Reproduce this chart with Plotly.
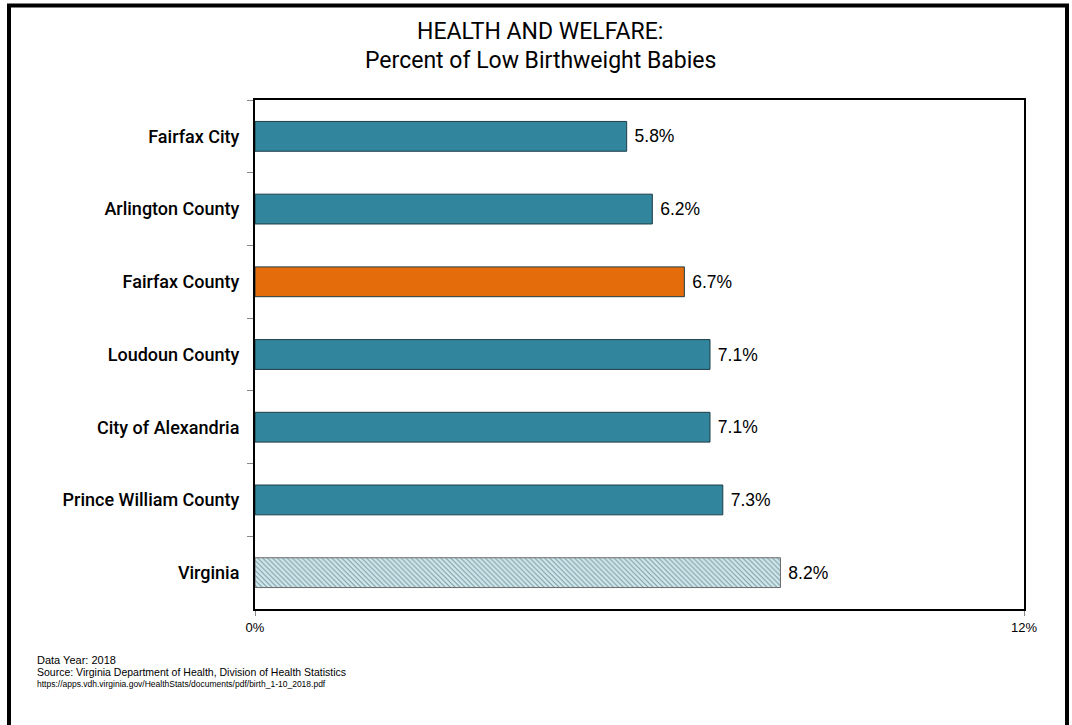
import plotly.graph_objects as go

# Datos
categorias = ['Fairfax City', 'Arlington County', 'Fairfax County', 'Loudoun County',
              'City of Alexandria', 'Prince William County', 'Virginia']
valores = [5.8, 6.2, 6.7, 7.1, 7.1, 7.3, 8.2]
etiquetas = [f' {v:.1f}%' for v in valores]
x_ticks = [0, 12]
x_tick_labels = ['0%', '12%']

teal = '#31859C'
naranja = '#E46C0A'
colores = [teal, teal, naranja, teal, teal, teal, '#cbe9f0']
bordes = ['#1d3d47'] * 6 + ['#6a6a6a']
patrones = [''] * 6 + ['\\']

# Área del gráfico en píxeles (izq, der, arriba, abajo)
L, R, T, B = 255, 1024, 100, 609


def px_x(x):
    return (x - L) / (R - L)


def px_y(y):
    return (B - y) / (B - T)


fig = go.Figure()
fig.add_trace(go.Bar(
    x=valores,
    y=categorias,
    orientation='h',
    width=0.41,
    marker=dict(
        color=colores,
        line=dict(color=bordes, width=1),
        pattern=dict(shape=patrones, fgcolor='#3f93aa', bgcolor='#cfeaf1', size=3.5, solidity=0.3),
    ),
    text=etiquetas,
    textposition='outside',
    textfont=dict(family='Liberation Sans, Arial', size=17.5, color='black'),
    cliponaxis=False,
    hoverinfo='skip',
))

fig.update_layout(
    width=1072,
    height=725,
    margin=dict(l=L, r=1072 - R, t=T, b=725 - B),
    paper_bgcolor='white',
    plot_bgcolor='white',
    showlegend=False,
    font=dict(family='Liberation Sans, Arial', color='black'),
)

fig.update_xaxes(
    range=[0, 12],
    tickvals=x_ticks,
    ticktext=x_tick_labels,
    ticks='outside', ticklen=5, tickcolor='#888',
    tickfont=dict(size=13),
    showgrid=False, zeroline=False,
    showline=True, linecolor='black', linewidth=2, mirror=True,
)

fig.update_yaxes(
    categoryorder='array', categoryarray=categorias,
    autorange='reversed',
    tickson='boundaries',
    ticks='outside', ticklen=6, tickcolor='#888',
    ticklabelstandoff=10,
    tickfont=dict(family='Roboto, Arial', size=18, weight=500),
    showgrid=False, zeroline=False,
    showline=True, linecolor='black', linewidth=2, mirror=True,
)

# Título (dos líneas)
for texto, ypx in [('HEALTH AND WELFARE:', 31), ('Percent of Low Birthweight Babies', 60)]:
    fig.add_annotation(text=texto, xref='paper', yref='paper',
                       x=px_x(540), y=px_y(ypx), xanchor='center', yanchor='middle',
                       showarrow=False,
                       font=dict(family='Roboto, Arial', size=23, color='black'))

# Marco exterior
fig.add_shape(type='rect', xref='paper', yref='paper',
              x0=px_x(9), x1=px_x(1067), y0=px_y(760), y1=px_y(5.5),
              line=dict(color='black', width=4), layer='above')

# Notas al pie
notas = [
    ('Data Year: 2018', 11, 660),
    ('Source: Virginia Department of Health, Division of Health Statistics', 10.5, 672),
    ('https://apps.vdh.virginia.gov/HealthStats/documents/pdf/birth_1-10_2018.pdf', 8.5, 684),
]
for texto, tam, ypx in notas:
    fig.add_annotation(text=texto, xref='paper', yref='paper',
                       x=px_x(35), y=px_y(ypx),
                       xanchor='left', yanchor='middle', showarrow=False,
                       font=dict(size=tam, color='black'))

fig.write_html('out.html', config={'displayModeBar': False},
               post_script="document.body.style.margin='0';")
